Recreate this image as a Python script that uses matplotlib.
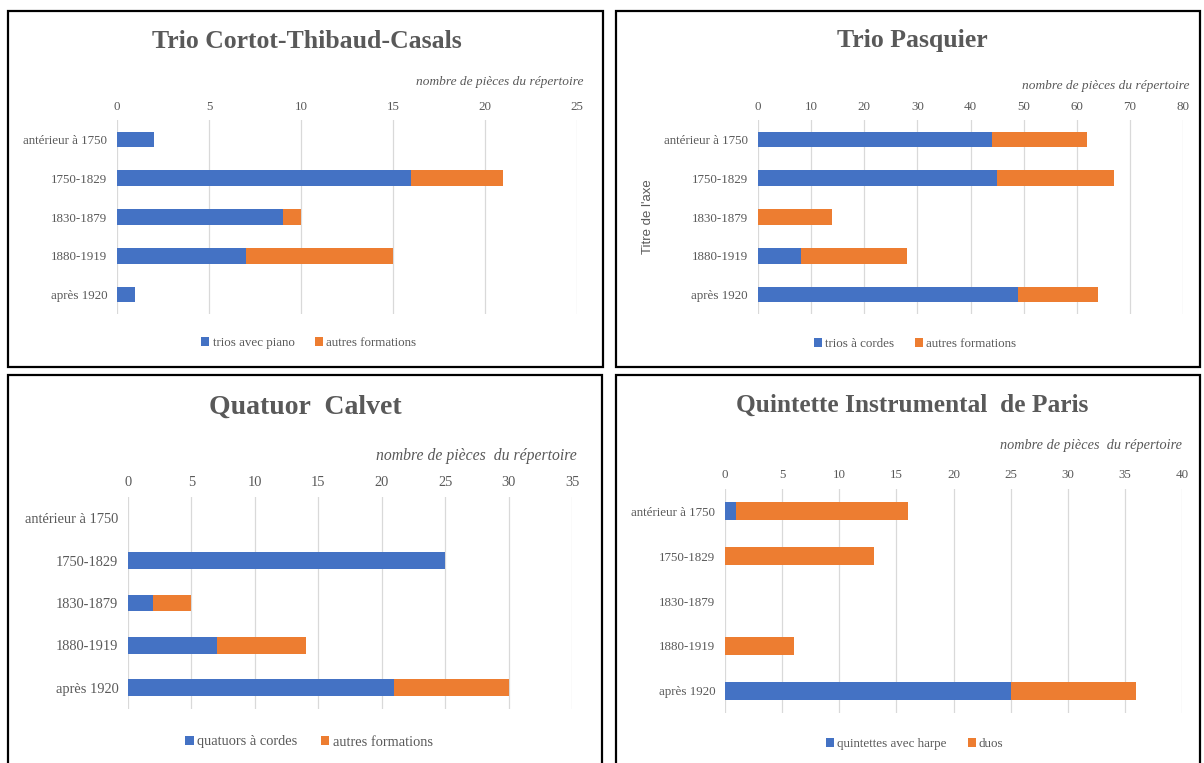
import matplotlib
matplotlib.use("Agg")
import matplotlib.pyplot as plt
from matplotlib.patches import Rectangle

# ---------------- data ----------------
categories = ["antérieur à 1750", "1750-1829", "1830-1879", "1880-1919", "après 1920"]

cortot_title = "Trio Cortot-Thibaud-Casals"
cortot_series = ["trios avec piano", "autres formations"]
cortot_main = [2, 16, 9, 7, 1]
cortot_other = [0, 5, 1, 8, 0]
cortot_ticks = [0, 5, 10, 15, 20, 25]

pasquier_title = "Trio Pasquier"
pasquier_series = ["trios à cordes", "autres formations"]
pasquier_main = [44, 45, 0, 8, 49]
pasquier_other = [18, 22, 14, 20, 15]
pasquier_ticks = [0, 10, 20, 30, 40, 50, 60, 70, 80]

calvet_title = "Quatuor  Calvet"
calvet_series = ["quatuors à cordes", "autres formations"]
calvet_main = [0, 25, 2, 7, 21]
calvet_other = [0, 0, 3, 7, 9]
calvet_ticks = [0, 5, 10, 15, 20, 25, 30, 35]

quintette_title = "Quintette Instrumental  de Paris"
quintette_series = ["quintettes avec harpe", "duos"]
quintette_main = [1, 0, 0, 0, 25]
quintette_other = [15, 13, 0, 6, 11]
quintette_ticks = [0, 5, 10, 15, 20, 25, 30, 35, 40]

axis_label = "nombre de pièces du répertoire"
axis_label_calvet = "nombre de pièces  du répertoire"

BLUE = "#4472C4"
ORANGE = "#ED7D31"
GREY = "#595959"
GRID = "#D9D9D9"
SERIF = "Liberation Serif"

W, H = 1204, 763
fig = plt.figure(figsize=(W / 100, H / 100), dpi=100)
fig.patch.set_facecolor("white")


def fx(x):
    return x / W


def fy(y):
    return 1 - y / H


def box(x0, y0, x1, y1):
    fig.patches.append(Rectangle((fx(x0), fy(y1)), fx(x1) - fx(x0), fy(y0) - fy(y1),
                                 transform=fig.transFigure, fill=False,
                                 edgecolor="black", linewidth=1.6, zorder=10))


def panel(rect, title, tpos, tsize, series, main, other, ticks, lab, lpos, lsize,
          legpos, ticksize, xpad, ypad):
    x0, y0, x1, y1 = rect
    ax = fig.add_axes([fx(x0), fy(y1), fx(x1) - fx(x0), fy(y0) - fy(y1)])
    ypos = list(range(len(categories)))
    ax.barh(ypos, main, height=0.4, color=BLUE, label=series[0], zorder=3)
    ax.barh(ypos, other, left=main, height=0.4, color=ORANGE, label=series[1], zorder=3)
    ax.set_xlim(ticks[0], ticks[-1])
    ax.set_ylim(len(categories) - 0.5, -0.5)
    ax.set_xticks(ticks)
    ax.set_yticks(ypos)
    ax.set_yticklabels(categories)
    ax.xaxis.tick_top()
    ax.tick_params(axis="both", length=0, colors=GREY, labelsize=ticksize)
    ax.tick_params(axis="x", pad=xpad)
    ax.tick_params(axis="y", pad=ypad)
    for t in ax.get_xticklabels() + ax.get_yticklabels():
        t.set_fontfamily(SERIF)
    for s in ax.spines.values():
        s.set_visible(False)
    ax.grid(axis="x", color=GRID, linewidth=0.9, zorder=0)
    ax.set_axisbelow(True)
    fig.text(fx(tpos[0]), fy(tpos[1]), title, ha="center", va="center",
             fontsize=tsize, fontweight="bold", family=SERIF, color=GREY)
    fig.text(fx(lpos[0]), fy(lpos[1]), lab, ha="right", va="center",
             fontsize=lsize, style="italic", family=SERIF, color=GREY)
    leg = ax.legend(loc="center", bbox_to_anchor=(fx(legpos[0]), fy(legpos[1])),
                    bbox_transform=fig.transFigure, ncol=2, frameon=False,
                    handlelength=0.6, handleheight=0.6, handletextpad=0.25,
                    columnspacing=1.6, prop={"family": SERIF, "size": ticksize})
    for t in leg.get_texts():
        t.set_color(GREY)
    return ax


# panel borders
box(8, 11, 603, 367)
box(616, 11, 1200, 367)
box(8, 375, 602, 770)
box(616, 375, 1200, 770)

panel((117, 120, 577, 314), cortot_title, (307, 41), 18.5, cortot_series,
      cortot_main, cortot_other, cortot_ticks, axis_label, (583, 82), 9.6,
      (309, 343), 9.4, 5, 7)

panel((758, 120, 1183, 314), pasquier_title, (912, 41), 18.5, pasquier_series,
      pasquier_main, pasquier_other, pasquier_ticks, axis_label, (1189, 86), 9.6,
      (915, 344), 9.4, 5, 7.5)
fig.text(fx(648), fy(217), "Titre de l'axe", rotation=90, ha="center", va="center",
         fontsize=9.5, family="Liberation Sans", color=GREY)

panel((128, 497, 572, 709), calvet_title, (305, 407), 20, calvet_series,
      calvet_main, calvet_other, calvet_ticks, axis_label_calvet, (577, 456), 11.3,
      (309, 742), 10.4, 6, 7)

panel((725, 489, 1182, 713), quintette_title, (912, 405), 18.3, quintette_series,
      quintette_main, quintette_other, quintette_ticks, axis_label_calvet, (1182, 446), 10.3,
      (915, 744), 9.4, 6, 7)

fig.savefig("out.png", dpi=100)
